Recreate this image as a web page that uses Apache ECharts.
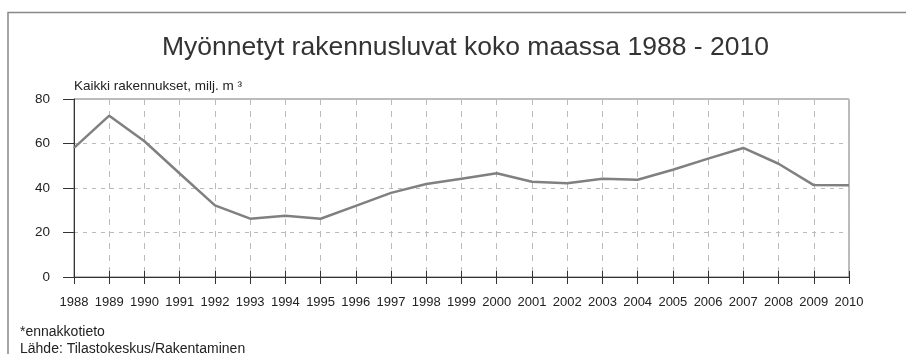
<!DOCTYPE html>
<html><head><meta charset="utf-8">
<script src="https://cdn.jsdelivr.net/npm/echarts@6/dist/echarts.min.js"></script>
<style>html,body{margin:0;padding:0;background:#fff}#c{width:906px;height:354px}</style>
</head><body><div id="c"></div>
<script>
var years = ['1988','1989','1990','1991','1992','1993','1994','1995','1996','1997','1998','1999','2000','2001','2002','2003','2004','2005','2006','2007','2008','2009','2010'];
var values = [58, 72.5, 61, 46.5, 32.2, 26.2, 27.5, 26.2, 32, 37.8, 41.8, 44.2, 46.6, 42.8, 42.1, 44.2, 43.7, 48.2, 53.2, 58, 50.9, 41.3, 41.2];
var titleText = 'Myönnetyt rakennusluvat koko maassa 1988 - 2010';
var yName = 'Kaikki rakennukset, milj. m ³';
var notes = ['*ennakkotieto', 'Lähde: Tilastokeskus/Rakentaminen'];

var chart = echarts.init(document.getElementById('c'), null, {renderer: 'canvas'});
var font = 'Liberation Sans, Arial, sans-serif';
chart.setOption({
  animation: false,
  backgroundColor: '#fff',
  textStyle: {fontFamily: font},
  title: {text: titleText, left: 157, top: 29,
    textStyle: {fontFamily: font, fontSize: 26.5, fontWeight: 'normal', color: '#333'}},
  grid: {left: 74, right: 57, top: 99, bottom: 77, show: true, borderColor: '#777', borderWidth: 1},
  xAxis: [{
    type: 'category', data: years, boundaryGap: false,
    axisLine: {lineStyle: {color: '#333', width: 1}},
    axisTick: {show: true, length: 7, lineStyle: {color: '#333'}},
    axisLabel: {color: '#222', fontSize: 13, margin: 19, fontFamily: font, interval: 0},
    splitLine: {show: true, lineStyle: {color: '#bbb', type: [6, 6], width: 1}}
  }, {
    type: 'category', data: years, boundaryGap: false, position: 'bottom',
    axisLine: {show: false},
    axisTick: {show: true, inside: true, length: 6, lineStyle: {color: '#333'}},
    axisLabel: {show: false}, splitLine: {show: false}
  }],
  yAxis: {
    type: 'value', min: 0, max: 80, interval: 20,
    name: yName, nameLocation: 'end', nameGap: 6,
    nameTextStyle: {color: '#222', fontSize: 13.5, align: 'left', fontFamily: font},
    axisLine: {show: true, lineStyle: {color: '#333'}},
    axisTick: {show: true, length: 11, lineStyle: {color: '#333'}},
    axisLabel: {color: '#222', fontSize: 13.5, margin: 24, fontFamily: font},
    splitLine: {show: true, lineStyle: {color: '#bbb', type: [4, 5], width: 1}}
  },
  graphic: [
    {type: 'polyline', shape: {points: [[8, 354], [8, 12.5], [906, 12.5]]}, style: {stroke: '#888', lineWidth: 1.5, fill: null}},
    {type: 'text', left: 20, top: 325, style: {text: notes[0], font: '14px ' + font, fill: '#222'}},
    {type: 'text', left: 20, top: 342, style: {text: notes[1], font: '14px ' + font, fill: '#222'}}
  ],
  series: [{
    type: 'line', data: values, symbol: 'none',
    lineStyle: {color: '#808080', width: 2.5}
  }]
});
</script></body></html>
